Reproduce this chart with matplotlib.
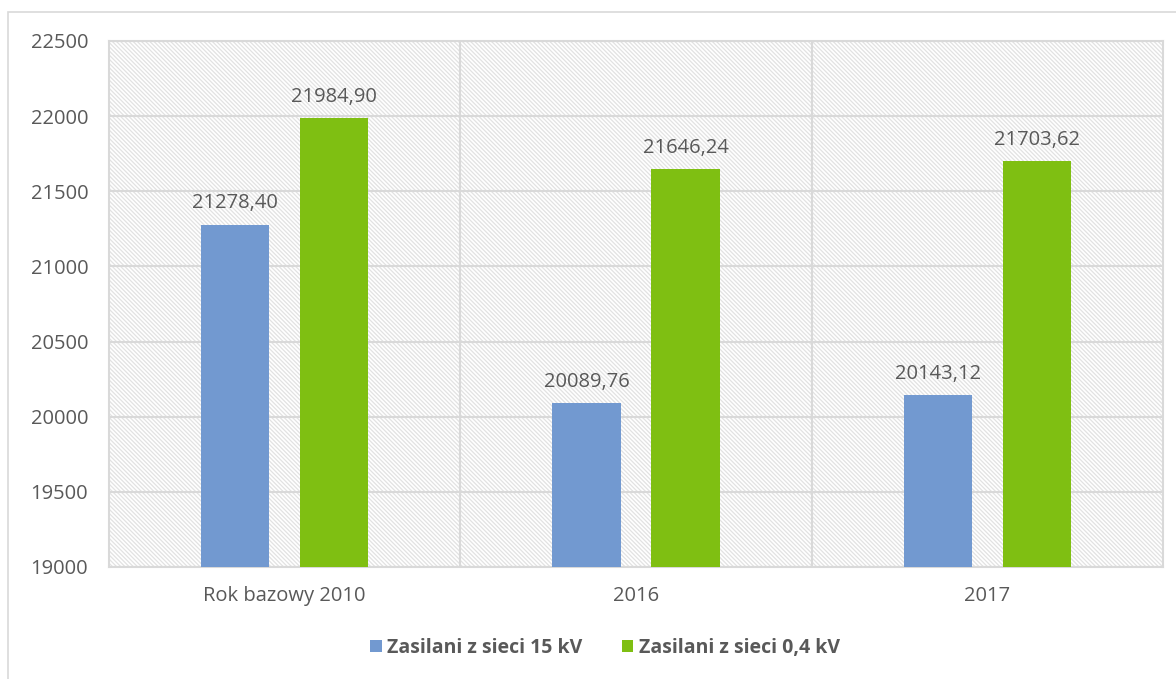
import matplotlib.pyplot as plt
from matplotlib.patches import Rectangle
import numpy as np

kategorie = ["Rok bazowy 2010", "2016", "2017"]
sieci_15kv = [21278.40, 20089.76, 20143.12]
sieci_04kv = [21984.90, 21646.24, 21703.62]
serie = ["Zasilani z sieci 15 kV", "Zasilani z sieci 0,4 kV"]

plt.rcParams['font.family'] = ['Open Sans', 'DejaVu Sans']
plt.rcParams['hatch.linewidth'] = 0.9
szary = '#595959'
siatka = '#D9D9D9'

fig = plt.figure(figsize=(11.76, 6.79), dpi=100)
ax = fig.add_axes([109 / 1176, 1 - 567 / 679, (1163 - 109) / 1176, (567 - 41) / 679])

# ramka wykresu
fig.patches.append(Rectangle((8 / 1176, -0.05), 1.1, 1 - 12 / 679 + 0.05,
                             transform=fig.transFigure, fill=False,
                             edgecolor=siatka, linewidth=1.2))

# tło kreskowane
ax.add_patch(Rectangle((0, 0), 1, 1, transform=ax.transAxes, facecolor='white',
                       edgecolor='#E2E2E2', hatch='\\' * 8, linewidth=0, zorder=0))

x = np.arange(len(kategorie))
szer = 0.194
b1 = ax.bar(x - 0.141, sieci_15kv, szer, color='#7299D0', label=serie[0], zorder=3)
b2 = ax.bar(x + 0.141, sieci_04kv, szer, color='#7FBF12', label=serie[1], zorder=3)

for bars, vals in ((b1, sieci_15kv), (b2, sieci_04kv)):
    for b, v in zip(bars, vals):
        ax.annotate(f"{v:.2f}".replace('.', ','), (b.get_x() + b.get_width() / 2, v),
                    xytext=(0, 8), textcoords='offset points', ha='center', va='bottom',
                    fontsize=14.5, color=szary)

ax.set_ylim(19000, 22500)
ax.set_xlim(-0.5, 2.5)
ax.set_yticks(np.arange(19000, 22501, 500))
ax.set_xticks(x)
ax.set_xticklabels(kategorie)
ax.tick_params(length=0, labelsize=14.5, labelcolor=szary)
ax.tick_params(axis='y', pad=15)
ax.tick_params(axis='x', pad=14)
ax.set_xticks([0.5, 1.5], minor=True)
ax.tick_params(which='minor', length=0)
ax.grid(True, axis='y', color=siatka, linewidth=1.5, zorder=1)
ax.grid(True, axis='x', which='minor', color=siatka, linewidth=1.5, zorder=1)
for s in ax.spines.values():
    s.set_color(siatka)
    s.set_linewidth(1.5)

leg = fig.legend(handles=[b1, b2], loc='center', bbox_to_anchor=(605 / 1176, 1 - 648 / 679),
                 ncol=2, frameon=False, handlelength=0.6, handleheight=0.6,
                 handletextpad=0.3, columnspacing=2.0,
                 prop={'size': 14, 'weight': 'bold'})
for t in leg.get_texts():
    t.set_color(szary)

fig.savefig("out.png", dpi=100)
